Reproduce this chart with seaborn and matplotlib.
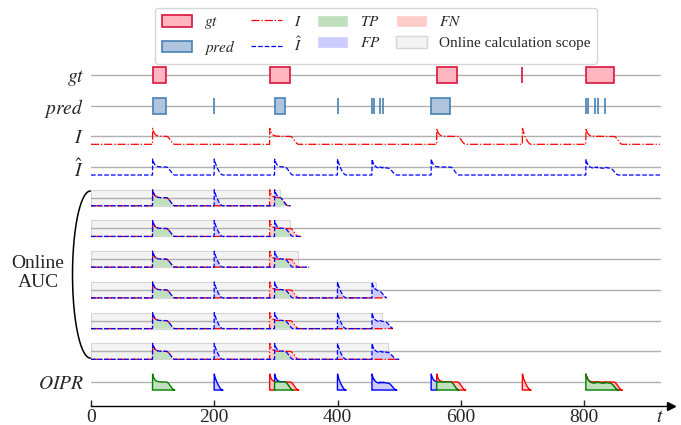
import numpy as np
import seaborn as sns
import matplotlib.pyplot as plt
from matplotlib.patches import Patch
from matplotlib.lines import Line2D

sns.set_style("white")
plt.rcParams["font.family"] = ["Liberation Serif", "DejaVu Serif"]
plt.rcParams["mathtext.fontset"] = "stix"

# events (time units)
gt_start = [100, 290, 561, 700, 803]
gt_end = [122, 323, 594, 700, 848]
pred_start = [100, 200, 298, 400, 456, 459, 469, 474, 552, 803, 806, 818, 822, 834]
pred_end = [122, 200, 314, 400, 456, 459, 469, 474, 583, 803, 806, 818, 822, 834]
# right edge of the "online calculation scope" for the six online rows
scope_end = [306, 323, 336, 462, 472, 482]
row_labels = ["$gt$", "$pred$", "$I$", r"$\hat{I}$", "$OIPR$"]

T_END = 923
t = np.arange(0, T_END + 0.01, 0.25)

c_gt, c_gt_edge = "#ffb6c1", "#dc143c"
c_pred, c_pred_edge = "#b0c4de", "#4682b4"
c_tp, c_fp, c_fn = "#bfdfbf", "#ccccff", "#ffcccc"
c_scope, c_scope_edge = "#f3f3f3", "#d6d6d6"
c_row = "#b0b0b0"
H = 0.52  # height of a row's band (value 0 -> 1)


def segments(starts, ends, gap=15):
    segs = []
    for s, e in sorted(zip(starts, ends)):
        if segs and s - segs[-1][1] <= gap:
            segs[-1][1] = max(segs[-1][1], e)
            segs[-1][2].append(s)
        else:
            segs.append([s, e, [s]])
    return segs


def indicator(tt, starts, ends, tau=3.0, L=14.0, hold=8.0):
    v = np.zeros_like(tt)
    for s, e, subs in segments(starts, ends):
        if len(subs) > 1:
            e = e + hold
        w = np.where((tt >= s) & (tt <= e), 1.0, 0.0)
        after = (tt > e) & (tt < e + L)
        w[after] = 0.5 * (1 + np.cos(np.pi * (tt[after] - e) / L))
        shape = 0.5 + 0.5 * np.exp(-np.clip(tt - s, 0, None) / tau)
        if len(subs) > 1:
            last = np.full_like(tt, s, dtype=float)
            for si in subs:
                last[tt >= si] = si
            shape = shape - 0.08 * (1 - np.exp(-np.clip(tt - last, 0, None) / 4.0))
        v = np.maximum(v, shape * w)
    return v


def yv(row, v):
    return row + (np.asarray(v) - 0.5) * H


def draw_pair(ax, tt, I, Ih, row, edges=False, lines=True):
    lo = np.minimum(I, Ih)
    kw = dict(interpolate=True, zorder=3)
    if edges:
        ax.fill_between(tt, yv(row, Ih), yv(row, I), where=I > Ih, facecolor=c_fn, edgecolor="red", lw=1, **kw)
        ax.fill_between(tt, yv(row, I), yv(row, Ih), where=Ih > I, facecolor=c_fp, edgecolor="blue", lw=1, **kw)
        ax.fill_between(tt, yv(row, 0), yv(row, lo), where=lo > 0, facecolor=c_tp, edgecolor="green", lw=1, **kw)
    else:
        ax.fill_between(tt, yv(row, 0), yv(row, lo), where=lo > 0, color=c_tp, lw=0, **kw)
        ax.fill_between(tt, yv(row, Ih), yv(row, I), where=I > Ih, color=c_fn, lw=0, **kw)
        ax.fill_between(tt, yv(row, I), yv(row, Ih), where=Ih > I, color=c_fp, lw=0, **kw)
    if lines:
        sns.lineplot(x=tt, y=yv(row, I), ax=ax, color="red", lw=0.9, linestyle="-.", estimator=None, zorder=4)
        sns.lineplot(x=tt, y=yv(row, Ih), ax=ax, color="blue", lw=0.9, linestyle="--", estimator=None, zorder=4)


fig = plt.figure(figsize=(6.81, 4.25), dpi=100)
ax = fig.add_axes([91 / 681, 19 / 425, (671 - 91) / 681, (406 - 62) / 425])
ax.set_xlim(0, 941)
ax.set_ylim(-10.78, 0.42)

rows_all = list(range(0, -11, -1))
for r in rows_all:
    ax.plot([0, T_END], [r, r], color=c_row, lw=1, zorder=1.5)

# gt / pred boxes
r_gt, r_pred, r_I, r_Ih, r_oipr = 0, -1, -2, -3, -10
ax.barh([r_gt] * len(gt_start), np.subtract(gt_end, gt_start), left=gt_start, height=H,
        color=c_gt, edgecolor=c_gt_edge, lw=1.2, zorder=3)
ax.barh([r_pred] * len(pred_start), np.subtract(pred_end, pred_start), left=pred_start, height=H,
        color=c_pred, edgecolor=c_pred_edge, lw=1.2, zorder=3)

# indicator rows
I_full = indicator(t, gt_start, gt_end)
Ih_full = indicator(t, pred_start, pred_end)
sns.lineplot(x=t, y=yv(r_I, I_full), ax=ax, color="red", lw=0.9, linestyle="-.", estimator=None, zorder=4)
sns.lineplot(x=t, y=yv(r_Ih, Ih_full), ax=ax, color="blue", lw=0.9, linestyle="--", estimator=None, zorder=4)

# online rows
for k, s in enumerate(scope_end):
    row = -(4 + k)
    ax.barh([row], [s], left=0, height=H, color=c_scope, edgecolor=c_scope_edge, lw=0.8, zorder=1)
    gs = [a for a in gt_start if a <= s]
    ge = [min(b, s) for a, b in zip(gt_start, gt_end) if a <= s]
    ps = [a for a in pred_start if a <= s]
    pe = [min(b, s) for a, b in zip(pred_start, pred_end) if a <= s]
    tk = t[t <= s + 18]
    draw_pair(ax, tk, indicator(tk, gs, ge), indicator(tk, ps, pe), row)

# OIPR row
draw_pair(ax, t, I_full, Ih_full, r_oipr, edges=True, lines=False)

# brace and Online AUC label
th = np.linspace(-np.pi / 2, np.pi / 2, 200)
ax.plot(-1 - 29 * np.cos(th), -6.5 + 2.72 * np.sin(th), color="black", lw=1.1, clip_on=False)
ax.text(-86, -6.45, "Online\nAUC", ha="center", va="center", fontsize=14, linespacing=1.1)

ax.set_yticks([r_gt, r_pred, r_I, r_Ih, r_oipr])
ax.set_yticklabels(row_labels)
ax.set_xticks([0, 200, 400, 600, 800])
ax.tick_params(axis="x", direction="in", length=4, width=1, pad=2, labelsize=14, bottom=True)
ax.tick_params(axis="y", length=0, pad=5, labelsize=14)
for sp in ["top", "right", "left"]:
    ax.spines[sp].set_visible(False)
ax.spines["bottom"].set_color("black")
ax.spines["bottom"].set_linewidth(1)
ax.plot(1, 0, ">k", ms=6, transform=ax.transAxes, clip_on=False)
ax.text(923, -10.88, "$t$", ha="center", va="top", fontsize=14)

handles = [
    Patch(facecolor=c_gt, edgecolor=c_gt_edge, lw=1.2),
    Patch(facecolor=c_pred, edgecolor=c_pred_edge, lw=1.2),
    Line2D([], [], color="red", lw=0.9, linestyle="-."),
    Line2D([], [], color="blue", lw=0.9, linestyle="--"),
    Patch(facecolor=c_tp),
    Patch(facecolor=c_fp),
    Patch(facecolor=c_fn),
    Patch(facecolor=c_scope, edgecolor=c_scope_edge),
]
labels = ["$gt$", "$pred$", "$I$", r"$\hat{I}$", "$TP$", "$FP$", "$FN$", "Online calculation scope"]
fig.legend(handles, labels, loc="upper center", bbox_to_anchor=(376 / 681, 1 - 8 / 425), ncol=4,
           fontsize=11, frameon=True, fancybox=True, edgecolor="#cccccc", handlelength=2.0,
           handleheight=0.8, columnspacing=1.0, borderpad=0.45, labelspacing=0.45, handletextpad=0.8,
           borderaxespad=0)

fig.savefig("out.png", dpi=100)
